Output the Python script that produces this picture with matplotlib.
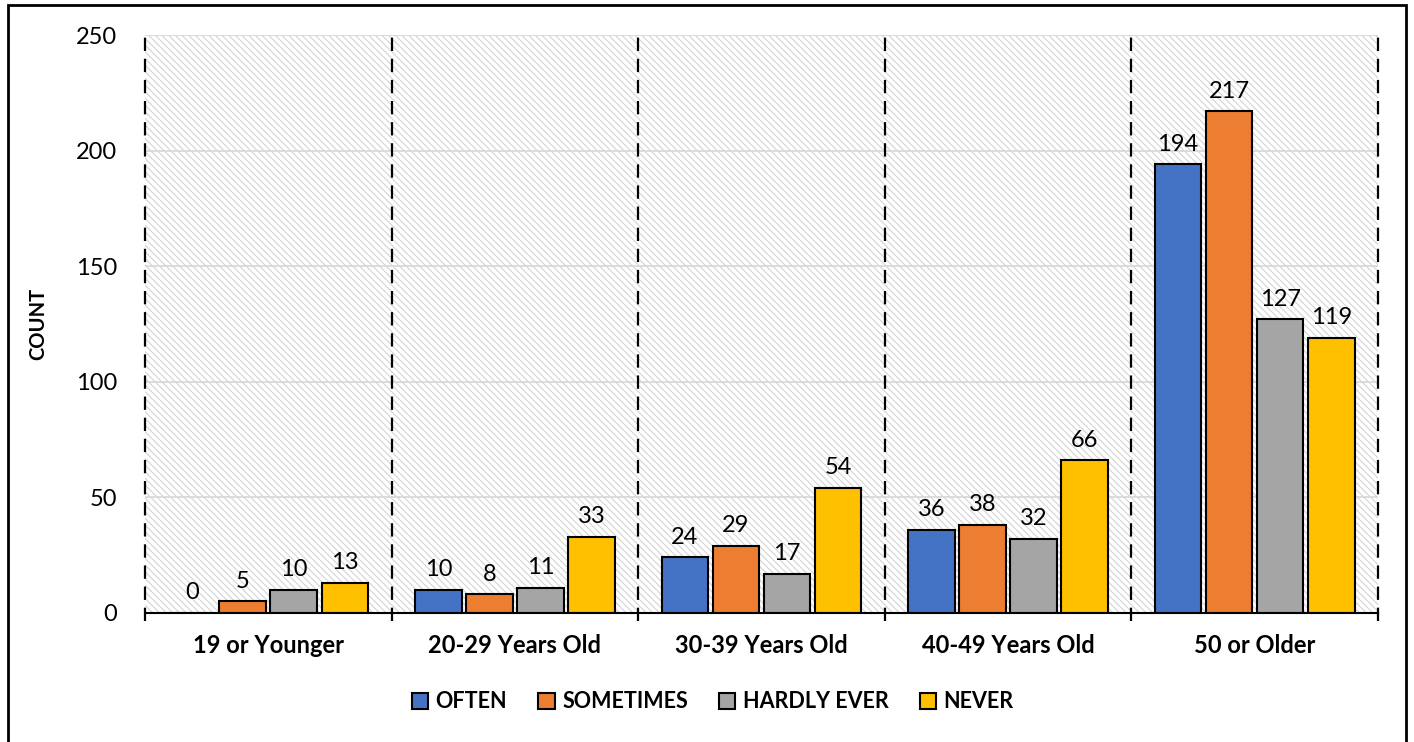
import matplotlib.pyplot as plt
import matplotlib.patches as mpatches
import numpy as np

plt.rcParams['font.family'] = ['Lato', 'DejaVu Sans']
plt.rcParams['hatch.linewidth'] = 0.8

# counts per age group
groups = ['19 or Younger', '20-29 Years Old', '30-39 Years Old', '40-49 Years Old', '50 or Older']
series = ['OFTEN', 'SOMETIMES', 'HARDLY EVER', 'NEVER']
often = [0, 10, 24, 36, 194]
sometimes = [5, 8, 29, 38, 217]
hardly_ever = [10, 11, 17, 32, 127]
never = [13, 33, 54, 66, 119]
colors = ['#4472C4', '#ED7D31', '#A5A5A5', '#FFC000']

values = [often, sometimes, hardly_ever, never]

fig = plt.figure(figsize=(14.14, 7.42), dpi=100)
ax = fig.add_axes([0.1025, 0.1739, 0.872, 0.7789])

# hatched plot background
bg = mpatches.Rectangle((0, 0), 1, 1, transform=ax.transAxes, facecolor='white',
                        edgecolor='#d4d4d4', hatch='\\\\\\\\\\', linewidth=0, zorder=0)
ax.add_patch(bg)

x = np.arange(len(groups))
width = 0.189
pitch = 0.207
for i, (vals, c) in enumerate(zip(values, colors)):
    pos = x + (i - 1.5) * pitch
    bars = ax.bar(pos, vals, width, color=c, edgecolor='black', linewidth=1.5,
                  label=series[i], zorder=3)
    for b, v in zip(bars, vals):
        ax.annotate(str(v), (b.get_x() + b.get_width() / 2, v), xytext=(0, 7),
                    textcoords='offset points', ha='center', va='bottom',
                    fontsize=17, zorder=4)

ax.set_xlim(-0.5, len(groups) - 0.5)
ax.set_ylim(0, 250)
ax.set_yticks(range(0, 251, 50))
ax.yaxis.grid(True, color='#d9d9d9', linewidth=1.3, zorder=1)
ax.set_axisbelow(True)

# dashed separators between age groups
bounds = np.arange(-0.5, len(groups), 1.0)
ax.vlines(bounds, -3.5, 250, colors='black', linestyles=(0, (6, 3.5)), linewidth=1.6,
          zorder=2, clip_on=False)

for s in ['top', 'left', 'right']:
    ax.spines[s].set_visible(False)
ax.spines['bottom'].set_linewidth(1.5)
ax.spines['bottom'].set_zorder(5)

ax.set_xticks(x)
ax.set_xticklabels(groups, fontsize=17, fontweight='bold')
ax.tick_params(axis='x', length=0, pad=15)
ax.tick_params(axis='y', length=0, pad=20, labelsize=17)
ax.set_ylabel('COUNT', fontsize=14.5, fontweight='bold', labelpad=20)

handles = [mpatches.Patch(facecolor=c, edgecolor='black', linewidth=1.5) for c in colors]
fig.legend(handles, series, loc='center', bbox_to_anchor=(0.504, 0.054), ncol=4,
           frameon=False, prop={'size': 15.5, 'weight': 'bold'},
           handlelength=0.75, handleheight=0.75, handletextpad=0.35, columnspacing=1.45)

# outer frame
fig.add_artist(mpatches.Rectangle((0.0057, -0.05), 0.9886, 1.043, transform=fig.transFigure,
                                  fill=False, edgecolor='black', linewidth=2))

fig.savefig('out.png', dpi=100)
